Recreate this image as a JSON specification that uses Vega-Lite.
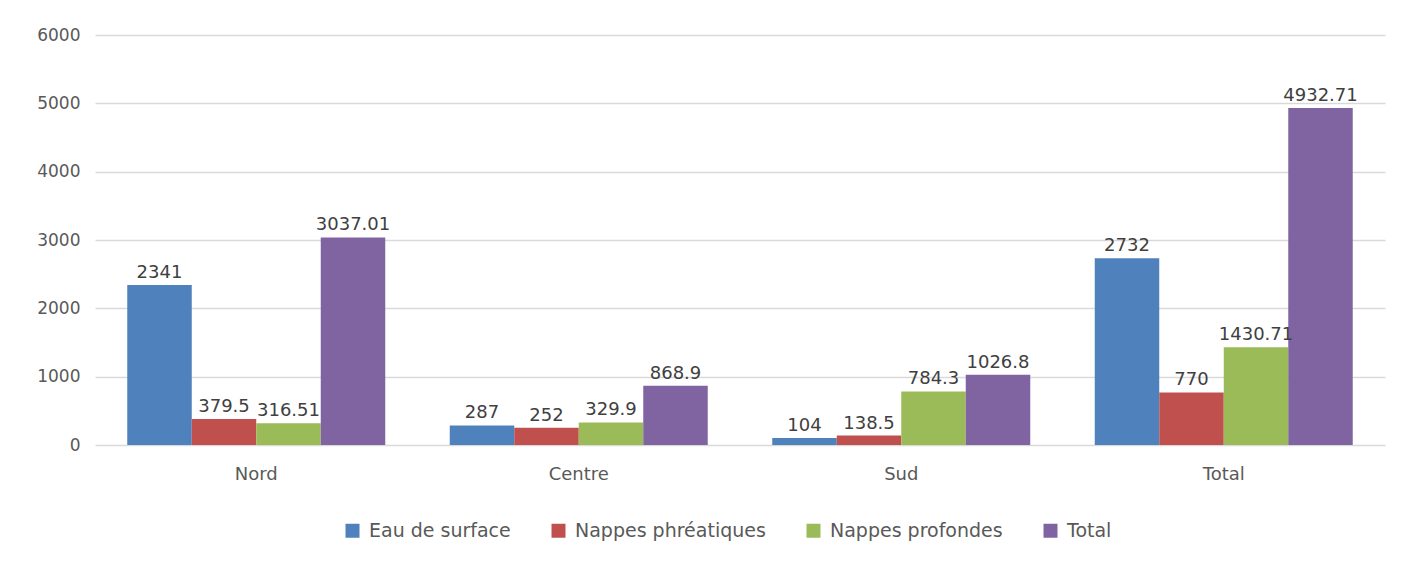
{
  "$schema": "https://vega.github.io/schema/vega-lite/v6.json",
  "autosize": "none",
  "width": 1290,
  "height": 410,
  "padding": {"left": 95, "top": 35, "right": 31, "bottom": 117},
  "background": "white",
  "config": {
    "view": {"stroke": null},
    "font": "DejaVu Sans"
  },
  "data": {
    "values": [
      {"region": "Nord", "serie": "Eau de surface", "value": 2341},
      {"region": "Nord", "serie": "Nappes phréatiques", "value": 379.5},
      {"region": "Nord", "serie": "Nappes profondes", "value": 316.51},
      {"region": "Nord", "serie": "Total", "value": 3037.01},
      {"region": "Centre", "serie": "Eau de surface", "value": 287},
      {"region": "Centre", "serie": "Nappes phréatiques", "value": 252},
      {"region": "Centre", "serie": "Nappes profondes", "value": 329.9},
      {"region": "Centre", "serie": "Total", "value": 868.9},
      {"region": "Sud", "serie": "Eau de surface", "value": 104},
      {"region": "Sud", "serie": "Nappes phréatiques", "value": 138.5},
      {"region": "Sud", "serie": "Nappes profondes", "value": 784.3},
      {"region": "Sud", "serie": "Total", "value": 1026.8},
      {"region": "Total", "serie": "Eau de surface", "value": 2732},
      {"region": "Total", "serie": "Nappes phréatiques", "value": 770},
      {"region": "Total", "serie": "Nappes profondes", "value": 1430.71},
      {"region": "Total", "serie": "Total", "value": 4932.71}
    ]
  },
  "encoding": {
    "x": {
      "field": "region", "type": "nominal", "sort": ["Nord", "Centre", "Sud", "Total"],
      "scale": {"paddingInner": 0.2, "paddingOuter": 0.1},
      "axis": {"title": null, "labelAngle": 0, "ticks": false, "domain": false, "labelFontSize": 18, "labelColor": "#595959", "labelPadding": 20, "labelFont": "DejaVu Sans"}
    },
    "xOffset": {"field": "serie", "type": "nominal", "sort": ["Eau de surface", "Nappes phréatiques", "Nappes profondes", "Total"], "scale": {"paddingInner": 0, "paddingOuter": 0}},
    "y": {
      "field": "value", "type": "quantitative",
      "scale": {"domain": [0, 6000], "nice": false},
      "axis": {"title": null, "values": [0, 1000, 2000, 3000, 4000, 5000, 6000], "format": "d", "ticks": false, "domain": false, "labelFontSize": 17, "labelColor": "#595959", "labelPadding": 15, "gridColor": "#d9d9d9", "gridWidth": 1.5, "labelFont": "DejaVu Sans"}
    }
  },
  "layer": [
    {
      "mark": {"type": "bar"},
      "encoding": {
        "color": {
          "field": "serie", "type": "nominal",
          "sort": ["Eau de surface", "Nappes phréatiques", "Nappes profondes", "Total"],
          "scale": {"domain": ["Eau de surface", "Nappes phréatiques", "Nappes profondes", "Total"], "range": ["#4F81BD", "#C0504D", "#9BBB59", "#8064A2"]},
          "legend": {"title": null, "orient": "none", "direction": "horizontal", "legendX": 248, "legendY": 486, "symbolType": "square", "symbolSize": 196, "symbolStrokeWidth": 0, "labelFontSize": 19, "labelLimit": 400, "labelColor": "#595959", "columnPadding": 38, "labelOffset": 7, "labelFont": "DejaVu Sans"}
        }
      }
    },
    {
      "mark": {"type": "text", "baseline": "bottom", "dy": -3, "fontSize": 18, "font": "DejaVu Sans", "color": "#404040"},
      "encoding": {
        "text": {"field": "value", "type": "nominal"}
      }
    }
  ]
}
